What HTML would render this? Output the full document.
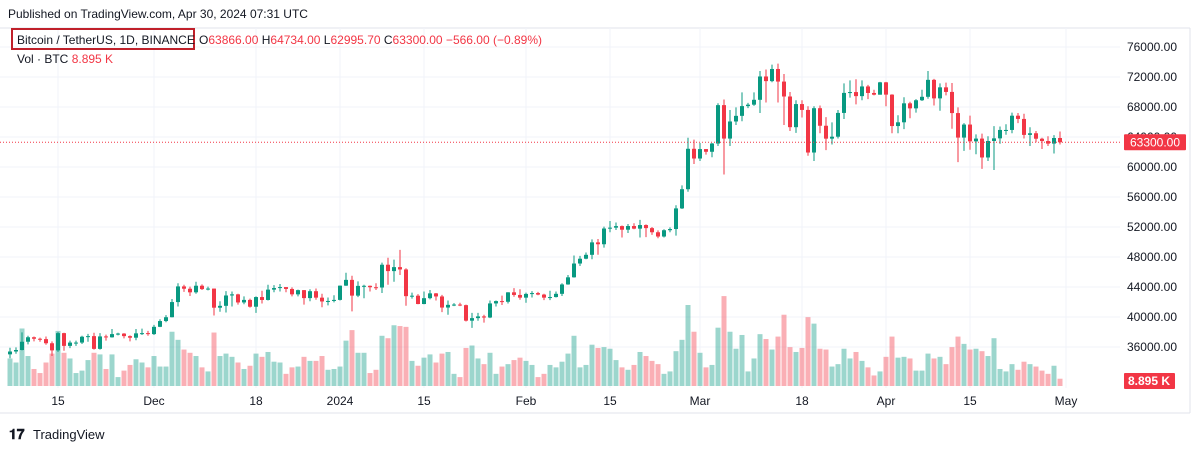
<!DOCTYPE html>
<html><head><meta charset="utf-8">
<style>
body{margin:0;background:#fff;width:1200px;height:451px;overflow:hidden;font-family:"Liberation Sans",sans-serif}
svg text{font-family:"Liberation Sans",sans-serif}
</style></head>
<body>
<svg id="chart" width="1200" height="451">
<text x="8" y="18" font-size="12" fill="#131722">Published on TradingView.com, Apr 30, 2024 07:31 UTC</text>
<line x1="0" y1="28" x2="1190" y2="28" stroke="#e0e3eb"/>
<line x1="1190" y1="28" x2="1190" y2="413" stroke="#e0e3eb"/>
<line x1="0" y1="413" x2="1190" y2="413" stroke="#e0e3eb"/>
<g id="grid"></g>
<g id="vols"></g>
<g id="candles"></g>
<g id="axes"></g>
<rect x="12" y="29" width="182" height="20" fill="none" stroke="#c0202a" stroke-width="2"/>
<text x="17" y="44" font-size="12" fill="#131722">Bitcoin / TetherUS, 1D, BINANCE</text>
<text x="199" y="44" font-size="12" fill="#f23645"><tspan fill="#131722">O</tspan>63866.00 <tspan fill="#131722">H</tspan>64734.00 <tspan fill="#131722">L</tspan>62995.70 <tspan fill="#131722">C</tspan>63300.00 −566.00 (−0.89%)</text>
<text x="17" y="63" font-size="12" fill="#131722">Vol · BTC <tspan fill="#f23645">8.895 K</tspan></text>
<g>
<text x="9" y="439" font-size="14" font-weight="bold" fill="#131722">𝟏𝟕</text>
<text x="33" y="439" font-size="13" fill="#131722">TradingView</text>
</g>
</svg>
<script>
const dates=["Nov7","Nov8","Nov9","Nov10","Nov11","Nov12","Nov13","Nov14","Nov15","Nov16","Nov17","Nov18","Nov19","Nov20","Nov21","Nov22","Nov23","Nov24","Nov25","Nov26","Nov27","Nov28","Nov29","Nov30"];
const firstOpen=35020;
const closes=[35400,35600,36700,37300,37100,37050,36500,35550,37850,36150,36590,36590,37370,37450,35750,37410,37290,37720,37790,37450,37240,37820,37850,37720,
38690,39460,39970,41990,44080,43770,43290,44170,43720,43790,41240,41490,42870,43020,41940,42280,41370,42660,42270,43650,43860,43990,43740,43020,43580,42520,43440,42580,42070,42140,42280,
44180,44950,42850,44150,44160,43970,43930,46970,46120,46650,46340,42780,42840,41730,42510,43150,42740,41260,41620,41660,41580,39510,39850,40080,39930,41810,42120,42030,43290,42940,42580,
43080,43190,42990,42580,42660,43090,44340,45290,47130,47770,48290,49950,49700,51800,51910,52120,51640,52130,51780,52260,51850,51300,50730,51570,51730,54480,57040,62430,61130,
62390,62030,63130,68250,63790,66070,66820,68120,68310,68960,72070,71450,73070,71390,69400,65310,68390,67610,61930,67840,65500,63780,64040,67210,69880,69990,69450,70740,69870,69640,71290,
69650,65460,65960,68490,67820,68900,69360,71620,69150,70620,70010,67190,63920,65660,63420,63790,61270,63470,63820,64940,64940,66840,66410,64280,64500,63770,63460,63120,63866,63300];
const highs=[35900,35950,37950,37500,37400,37250,37400,36750,37980,37900,36850,36850,37500,37750,37900,37850,37650,38400,37900,37850,37550,38400,38450,38150,
38950,39700,40250,42400,44500,44300,44050,44700,44350,44050,43800,42100,43450,43400,43100,42750,42450,42750,43500,44300,44250,44400,43800,43950,43650,43600,43700,43800,43100,42600,42900,
44200,45900,45500,44750,44300,44200,44500,47250,47900,47650,48950,46500,43250,43050,43400,43600,43200,42950,42200,41850,41900,41650,40550,40550,40300,42200,42200,42850,43300,43850,43700,
43250,43450,43350,43100,43500,43400,44500,45600,48200,48150,48600,50350,50400,52050,52800,52600,52200,52400,52500,52950,52350,52000,51550,51700,51950,54900,57550,63900,63650,
63200,62400,63200,68500,69000,67600,67950,69950,68550,69950,72800,73000,73650,73780,72400,70000,68900,68900,68100,68100,68200,66650,65950,67600,71150,71550,71700,71550,70950,70300,71350,
71350,69700,66900,69300,68700,69050,70300,72800,71750,71150,71250,71200,67950,65850,66850,64350,64450,64100,65450,65400,65700,67250,67200,67100,65300,64800,63900,64100,64250,64734];
const lows=[34500,35100,35550,36350,36750,36700,36300,34800,35350,35500,35850,36150,36400,36700,35650,35650,36850,37250,37550,37150,36750,36900,37600,37500,
37600,38650,39300,39950,41400,43350,42800,43100,43600,43550,40200,40700,40600,41400,41650,41700,41250,40550,41800,42200,43300,43400,43300,42750,42750,41650,42100,42300,41300,41550,41950,
42200,44150,40750,42650,42500,43400,43600,43200,44300,44700,45600,41500,42450,41700,41700,42350,42200,40650,40300,41450,41450,39400,38550,39500,39250,39850,41400,41600,41800,42700,42300,
41900,42600,42900,42250,42250,42600,42800,44300,45250,46800,47700,47700,48300,49250,51300,51600,50600,51200,51700,50600,50650,50950,50500,50600,51300,50850,54400,56700,60400,
60800,61650,61300,62800,59000,62800,65600,66100,67850,68150,67200,68600,71300,68600,65600,64800,64550,66600,61500,60800,64500,62250,63000,63800,66400,69250,68350,68900,69050,69550,69650,
68100,64500,64500,65050,66500,67250,68800,69100,68200,67500,69550,65100,60650,62150,62300,61700,59750,60800,59600,63100,64300,64500,65850,63800,62800,63300,62400,62800,61800,62995.7];
const volumes=[34,29,71,37,21,16,29,40,68,41,34,16,19,32,41,39,21,39,11,19,26,33,29,23,37,24,24,67,57,45,41,37,23,18,66,37,40,36,29,21,25,40,36,42,30,29,15,23,24,36,31,31,37,20,21,24,56,69,41,41,16,20,62,59,75,74,73,31,25,35,39,29,40,42,15,11,47,50,34,27,41,15,24,27,32,35,31,
26,11,15,26,23,30,40,62,23,26,51,47,48,46,32,23,20,26,42,37,31,27,15,18,43,57,100,67,41,23,26,72,111,67,46,63,18,34,64,58,45,61,88,48,42,47,85,77,46,45,24,27,46,34,42,31,23,13,18,36,61,35,36,34,19,19,40,34,36,27,48,61,52,45,46,43,37,59,21,18,27,20,30,27,24,19,15,25,9];
const priceTicks=[76000,72000,68000,64000,60000,56000,52000,48000,44000,40000,36000];
const timeLabels=["15","Dec","18","2024","15","Feb","15","Mar","18","Apr","15","May"];
const timeLabelIdx=[8,24,41,55,69,86,100,115,132,146,160,176];

const NS="http://www.w3.org/2000/svg";
const xOf=i=>10+i*6.0;
const yOf=p=>47+(76000-p)*0.0075;
const vBase=386, vH=v=>v*0.81;
function mk(tag,attrs,parent){const e=document.createElementNS(NS,tag);for(const k in attrs)e.setAttribute(k,attrs[k]);parent.appendChild(e);return e;}
const grid=document.getElementById('grid'),axes=document.getElementById('axes'),cg=document.getElementById('candles'),vg=document.getElementById('vols');
priceTicks.forEach(p=>{
  const l=mk('line',{x1:0,x2:1120,y1:yOf(p),y2:yOf(p),stroke:'#f0f3fa'},grid);
  
  
  const t=mk('text',{x:1177,y:yOf(p)+4,'font-size':12,fill:'#131722','text-anchor':'end'},axes);
  t.textContent=p.toFixed(2);
  
  
});
timeLabels.forEach((s,k)=>{
  const x=xOf(timeLabelIdx[k]);
  const l=mk('line',{x1:x,x2:x,y1:28,y2:388,stroke:'#f0f3fa'},grid);
  
  
  const t=mk('text',{x:x,y:405,'font-size':12,fill:'#131722','text-anchor':'middle'},axes);
  t.textContent=s;
  
  
});
for(let i=0;i<closes.length;i++){
  const o=i===0?firstOpen:closes[i-1], c=closes[i];
  const up=c>=o, col=up?'#089981':'#f23645', x=xOf(i);
  const v=mk('rect',{x:x-2.5,y:vBase-vH(volumes[i]),width:5,height:vH(volumes[i]),fill:up?'rgba(8,153,129,0.4)':'rgba(242,54,69,0.4)'},vg);
  
  
  const w=mk('line',{x1:x,x2:x,y1:yOf(highs[i]),y2:yOf(lows[i]),stroke:col,'stroke-width':1},cg);
  
  
  const top=yOf(Math.max(o,c)),bh=Math.max(1,Math.abs(yOf(o)-yOf(c)));
  const b=mk('rect',{x:x-2,y:top,width:4,height:bh,fill:col},cg);
  
  
}
const last=closes[closes.length-1];
const pl=mk('line',{x1:0,x2:1120,y1:yOf(last),y2:yOf(last),stroke:'#f23645','stroke-dasharray':'1,2'},axes);


const pb=mk('rect',{x:1124,y:yOf(last)-8,width:62,height:16,fill:'#f23645',rx:1},axes);


const pt=mk('text',{x:1155,y:yOf(last)+4,'font-size':12,fill:'#fff','text-anchor':'middle'},axes);
pt.textContent=last.toFixed(2);


const vb=mk('rect',{x:1124,y:373,width:51,height:16,fill:'#f23645',rx:1},axes);


const vt=mk('text',{x:1149,y:385,'font-size':12,fill:'#fff','text-anchor':'middle','font-weight':'bold'},axes);
vt.textContent='8.895 K';


</script>
</body></html>
